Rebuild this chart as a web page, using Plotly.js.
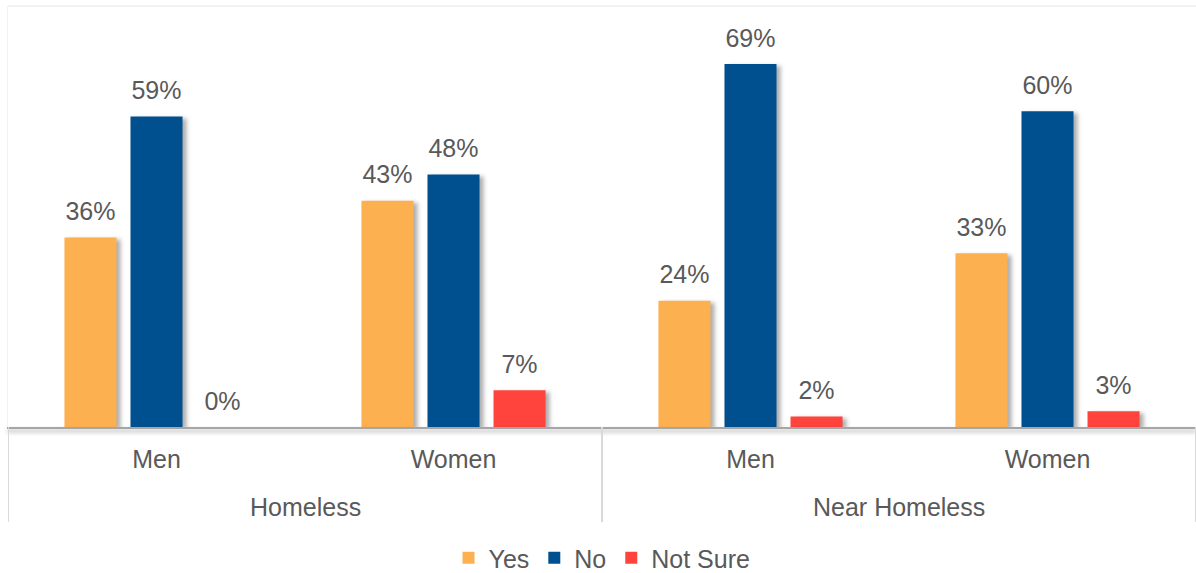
<!DOCTYPE html>
<html>
<head>
<meta charset="utf-8">
<script src="https://cdn.plot.ly/plotly-3.0.1.min.js"></script>
<style>
  html, body { margin: 0; padding: 0; background: #fff; }
  #chart { width: 1196px; height: 573px; }
  .barlayer .point path { filter: drop-shadow(4px 2px 2px rgba(0,0,0,0.32)); }
  .xlines-above { filter: drop-shadow(0px 3px 2px rgba(0,0,0,0.35)); }
</style>
</head>
<body>
<div id="chart"></div>
<script>
const groups = ["Homeless", "Homeless", "Near Homeless", "Near Homeless"];
const genders = ["Men", "Women", "Men", "Women"];
const seriesNames = ["Yes", "No", "Not Sure"];
const yesValues = [36, 43, 24, 33];
const noValues = [59, 48, 69, 60];
const notSureValues = [0, 7, 2, 3];
const colors = ["#FDB04F", "#00508F", "#FF433D"];

const allSeries = [yesValues, noValues, notSureValues];
const FONT = "'Liberation Sans', Arial, sans-serif";
const TXT = "#595959";
const FS = 25;
const idx = genders.map((_, i) => i);

const traces = [];
allSeries.forEach((vals, i) => {
  traces.push({
    type: "bar",
    name: seriesNames[i],
    x: idx,
    y: vals,
    marker: { color: colors[i], line: { width: 0 } },
    offsetgroup: String(i),
    hoverinfo: "skip"
  });
});
allSeries.forEach((vals, i) => {
  traces.push({
    type: "scatter",
    mode: "markers+text",
    x: idx,
    y: vals,
    text: vals.map(v => v + "%"),
    textposition: "top center",
    textfont: { family: FONT, size: FS, color: TXT },
    marker: { size: 16, opacity: 0 },
    offsetgroup: String(i),
    showlegend: false,
    cliponaxis: false,
    hoverinfo: "skip"
  });
});

// group labels and dividers derived from the groups array
const uniqueGroups = [...new Set(groups)];
const annotations = uniqueGroups.map(g => {
  const members = idx.filter(i => groups[i] === g);
  const center = members.reduce((a, b) => a + b, 0) / members.length;
  return {
    text: g, x: center, xref: "x", y: 0, yref: "paper",
    yanchor: "middle", yshift: -80, showarrow: false,
    font: { family: FONT, size: FS, color: TXT }
  };
});
const bounds = [-0.5];
uniqueGroups.forEach(g => {
  const members = idx.filter(i => groups[i] === g);
  bounds.push(Math.max(...members) + 0.5);
});
const shapes = bounds.map(b => ({
  type: "line", xref: "x", yref: "paper",
  x0: b, x1: b, y0: 0, y1: -0.2257,
  line: { color: "#D9D9D9", width: 2 }
}));
// faint chart-area top border
shapes.push({
  type: "line", xref: "paper", yref: "paper",
  x0: 0, x1: 1, y0: 1, y1: 1,
  line: { color: "#F2F2F2", width: 2 }
});

const layout = {
  width: 1196,
  height: 573,
  margin: { l: 8, r: 0, t: 6, b: 146 },
  paper_bgcolor: "#ffffff",
  plot_bgcolor: "#ffffff",
  barmode: "group",
  scattermode: "group",
  bargap: 0.333,
  scattergap: 0.333,
  bargroupgap: 0.212,
  showlegend: true,
  font: { family: FONT, size: FS, color: TXT },
  legend: {
    orientation: "h",
    x: 0.5, xanchor: "center",
    xref: "paper",
    yref: "container",
    y: 0.026, yanchor: "middle",
    font: { family: FONT, size: FS, color: TXT },
    itemclick: false
  },
  annotations: annotations,
  shapes: shapes,
  xaxis: {
    type: "linear",
    range: [-0.5, 3.5],
    tickmode: "array",
    tickvals: idx,
    ticktext: genders,
    showline: true,
    linecolor: "#A6A6A6",
    linewidth: 1.5,
    ticks: "",
    ticklabelstandoff: 9,
    showgrid: false,
    zeroline: false,
    tickfont: { family: FONT, size: FS, color: TXT },
    fixedrange: true
  },
  yaxis: {
    range: [0, 80],
    showticklabels: false,
    ticks: "",
    showline: true,
    linecolor: "#F2F2F2",
    linewidth: 1,
    showgrid: false,
    zeroline: false,
    fixedrange: true
  }
};

Plotly.newPlot("chart", traces, layout, { displayModeBar: false, staticPlot: true });
</script>
</body>
</html>
